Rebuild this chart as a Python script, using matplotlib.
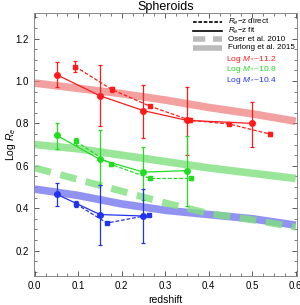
import matplotlib
matplotlib.use('Agg')

import matplotlib.pyplot as plt
import numpy as np

plt.rcParams['font.family'] = ['Liberation Sans', 'DejaVu Sans']
plt.rcParams['mathtext.fontset'] = 'custom'
plt.rcParams['mathtext.rm'] = 'Liberation Sans'
plt.rcParams['mathtext.it'] = 'Liberation Sans:italic'

# Furlong et al. 2015 bands
band_z = [0.0, 0.1, 0.2, 0.3, 0.4, 0.5, 0.6]
furlong_hi = [0.99, 0.965, 0.94, 0.91, 0.875, 0.845, 0.81]
furlong_mid = [0.70, 0.68, 0.65, 0.62, 0.59, 0.565, 0.54]
furlong_lo = [0.49, 0.46, 0.42, 0.39, 0.37, 0.35, 0.32]
# Oser et al. 2010
oser_mid = [0.59, 0.535, 0.48, 0.425, 0.375, 0.345, 0.31]

# fit (solid) points
fit_z_hi = [0.05, 0.15, 0.25, 0.35, 0.5]
fit_hi = [1.03, 0.93, 0.86, 0.814, 0.80]
fit_hi_up = [0.06, 0.147, 0.12, 0.156, 0.10]
fit_hi_dn = [0.06, 0.144, 0.13, 0.164, 0.11]

fit_z_mid = [0.05, 0.15, 0.25, 0.35]
fit_mid = [0.744, 0.63, 0.57, 0.577]
fit_mid_up = [0.056, 0.14, 0.12, 0.163]
fit_mid_dn = [0.064, 0.12, 0.13, 0.167]

fit_z_lo = [0.05, 0.15, 0.25]
fit_lo = [0.466, 0.37, 0.363]
fit_lo_up = [0.054, 0.14, 0.127]
fit_lo_dn = [0.056, 0.145, 0.128]

# direct (dashed) points
dir_z_hi = [0.093, 0.177, 0.266, 0.357, 0.447, 0.54]
dir_hi = [1.068, 0.96, 0.88, 0.815, 0.797, 0.75]
dir_hi_err = [0.025, 0.01, 0.008, 0.008, 0.006, 0.008]

dir_z_mid = [0.095, 0.175, 0.266, 0.36]
dir_mid = [0.715, 0.607, 0.54, 0.54]
dir_mid_err = [0.015, 0.008, 0.006, 0.006]

dir_z_lo = [0.095, 0.166, 0.262]
dir_lo = [0.42, 0.33, 0.367]
dir_lo_err = [0.013, 0.006, 0.006]

style_labels = [r'$R_e$$-$z direct', r'$R_e$$-$z fit', 'Oser et al. 2010', 'Furlong et al. 2015']
mass_labels = [r'Log $M_*$~11.2', r'Log $M_*$~10.8', r'Log $M_*$~10.4']

red, green, blue = '#ff1a1a', '#22dd22', '#2233ee'

fig = plt.figure(figsize=(3.0, 3.05), dpi=100)
ax = fig.add_axes([0.113, 0.095, 0.877, 0.862])

ax.plot(band_z, furlong_hi, color='#f08080', lw=5.5, alpha=0.75, solid_capstyle='butt')
ax.plot(band_z, furlong_mid, color='#80e080', lw=5.5, alpha=0.8, solid_capstyle='butt')
ax.plot(band_z, furlong_lo, color='#7777ee', lw=5.5, alpha=0.8, solid_capstyle='butt')
ax.plot(band_z, oser_mid, color='#80e080', lw=5, alpha=0.8, dashes=(2.4, 1.4))

for z, y, up, dn, c in [(fit_z_hi, fit_hi, fit_hi_up, fit_hi_dn, red),
                        (fit_z_mid, fit_mid, fit_mid_up, fit_mid_dn, green),
                        (fit_z_lo, fit_lo, fit_lo_up, fit_lo_dn, blue)]:
    ax.errorbar(z, y, yerr=[dn, up], color=c, marker='o', ms=4, lw=0.9,
                elinewidth=0.9, capsize=1.5, capthick=0.9)

for z, y, e, c in [(dir_z_hi, dir_hi, dir_hi_err, red),
                   (dir_z_mid, dir_mid, dir_mid_err, green),
                   (dir_z_lo, dir_lo, dir_lo_err, blue)]:
    ax.errorbar(z, y, yerr=e, color=c, marker='s', ms=2.5, lw=0.9, ls=(0, (3, 1.5)),
                elinewidth=0.9, capsize=1.5, capthick=0.9)

ax.set_xlim(-0.002, 0.603)
ax.set_ylim(0.08, 1.32)
ax.set_xticks(np.arange(0, 0.61, 0.1))
ax.set_yticks([0.2, 0.4, 0.6, 0.8, 1.0, 1.2])
ax.set_xticks(np.arange(0, 0.61, 0.025), minor=True)
ax.set_yticks(np.arange(0.1, 1.32, 0.05), minor=True)
ax.tick_params(which='both', direction='in', top=True, right=True, labelsize=7, color='#444444')
ax.tick_params(which='major', length=3.5, width=0.6)
ax.tick_params(which='minor', length=2, width=0.5)
for s in ax.spines.values():
    s.set_color('#888888')
    s.set_linewidth(0.7)

ax.set_xlabel('redshift', fontsize=7.5, labelpad=3)
ax.set_ylabel(r'Log $R_e$', fontsize=7.5)
ax.yaxis.set_label_coords(-0.06, 0.5)
ax.set_title('Spheroids', fontsize=9, pad=2)

# legend drawn by hand
styles = [dict(color='black', lw=1.2, ls=(0, (2.2, 1))),
          dict(color='black', lw=1.2),
          dict(color='#bbbbbb', lw=4, dashes=(2.2, 1.4)),
          dict(color='#bbbbbb', lw=4, solid_capstyle='butt')]
rows = [0.965, 0.932, 0.900, 0.868]
for yy, st, txt in zip(rows, styles, style_labels):
    ax.plot([0.605, 0.715], [yy, yy], transform=ax.transAxes, **st)
    ax.text(0.738, yy, txt, fontsize=5.8, va='center', transform=ax.transAxes)

for yy, txt, c in zip([0.825, 0.785, 0.744], mass_labels, [red, green, blue]):
    ax.text(0.73, yy, txt, color=c, fontsize=6, va='center', transform=ax.transAxes)

plt.savefig('out.png', dpi=100)
